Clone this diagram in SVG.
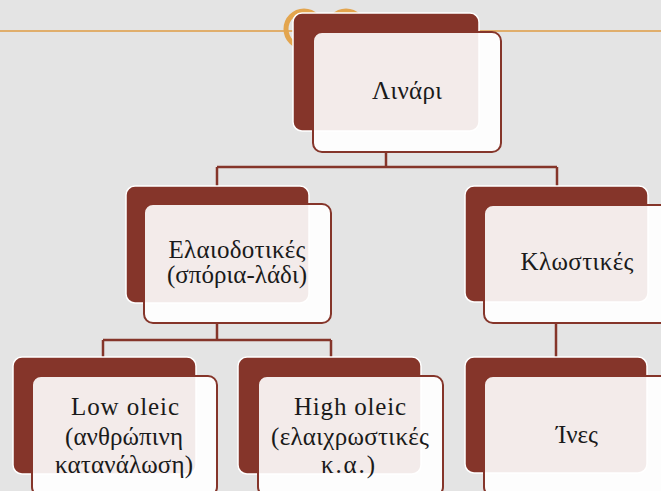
<svg xmlns="http://www.w3.org/2000/svg" width="661" height="491" viewBox="0 0 661 491">
<style>
.back{fill:#85352a;stroke:#ffffff;stroke-width:1.5}
.front{fill:#ffffff;fill-opacity:0.9;stroke:#85352a;stroke-width:2}
.lbl{font-family:"Liberation Serif","DejaVu Serif",serif;font-size:25px;fill:#1a1a1a;text-anchor:middle}
.conn{stroke:#85352a;stroke-width:2.5;fill:none}
</style>
<rect x="0" y="0" width="661" height="491" fill="#e4e4e4"/>
<line x1="0" y1="31" x2="661" y2="31" stroke="#e0ae6c" stroke-width="2"/>
<circle cx="304" cy="29" r="18" fill="none" stroke="#e3a54e" stroke-width="5"/>
<circle cx="346" cy="29" r="18" fill="none" stroke="#e3a54e" stroke-width="5"/>
<g id="connectors">
<path class="conn" d="M386,152 V167 M217,167 H557 M217,167 V186 M557,167 V186"/>
<path class="conn" d="M217,323 V340 M103,340 H331 M103,340 V357 M331,340 V357"/>
<path class="conn" d="M556,323 V357"/>
</g>
<g id="n-linari">
<rect class="back" x="293" y="13" width="186" height="118" rx="9"/>
<rect class="front" x="313" y="32" width="188" height="120" rx="9"/>
<text class="lbl" x="407" y="99" textLength="70">Λινάρι</text>
</g>
<g id="n-elaiodotikes">
<rect class="back" x="126" y="186" width="183" height="117" rx="9"/>
<rect class="front" x="144" y="204" width="187" height="119" rx="9"/>
<text class="lbl" x="237" y="258" textLength="137">Ελαιοδοτικές</text>
<text class="lbl" x="237" y="283" textLength="140">(σπόρια-λάδι)</text>
</g>
<g id="n-klostikes">
<rect class="back" x="465" y="186" width="183" height="116" rx="9"/>
<rect class="front" x="484" y="205" width="187" height="118" rx="9"/>
<text class="lbl" x="577" y="270" textLength="113">Κλωστικές</text>
</g>
<g id="n-lowoleic">
<rect class="back" x="13" y="357" width="183" height="117" rx="9"/>
<rect class="front" x="32" y="376" width="185" height="120" rx="9"/>
<text class="lbl" x="125" y="415" textLength="108">Low oleic</text>
<text class="lbl" x="124" y="445" textLength="118">(ανθρώπινη</text>
<text class="lbl" x="124" y="473" textLength="138">κατανάλωση)</text>
</g>
<g id="n-higholeic">
<rect class="back" x="238" y="357" width="183" height="117" rx="9"/>
<rect class="front" x="258" y="376" width="185" height="120" rx="9"/>
<text class="lbl" x="350" y="415" textLength="112">High oleic</text>
<text class="lbl" x="350" y="445" textLength="158">(ελαιχρωστικές</text>
<text class="lbl" x="348" y="473" textLength="54">κ.α.)</text>
</g>
<g id="n-ines">
<rect class="back" x="465" y="357" width="182" height="116" rx="9"/>
<rect class="front" x="484" y="376" width="187" height="120" rx="9"/>
<text class="lbl" x="577" y="443" textLength="42">Ίνες</text>
</g>
</svg>
